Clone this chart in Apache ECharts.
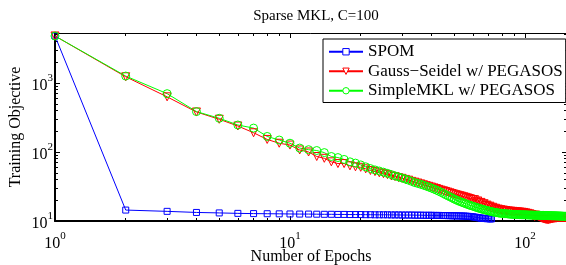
<!DOCTYPE html>
<html><head><meta charset="utf-8">
<script src="https://cdn.jsdelivr.net/npm/echarts@6/dist/echarts.min.js"></script>
<style>html,body{margin:0;padding:0;background:#fff}#c{width:566px;height:265px}</style>
</head><body><div id="c"></div>
<script>
// ---- data ----
const titleText = 'Sparse MKL, C=100';
const xName = 'Number of Epochs';
const yName = 'Training Objective';
const seriesNames = ['SPOM', 'Gauss\u2212Seidel w/ PEGASOS', 'SimpleMKL w/ PEGASOS'];
const xMajorTicks = [1, 10, 100];
const yMajorTicks = [10, 100, 1000];
const xMinorTicks = [2,3,4,5,6,7,8,9,20,30,40,50,60,70,80,90];
const yMinorTicks = [20,30,40,50,60,70,80,90,200,300,400,500,600,700,800,900,2000,3000,4000,5000];

const spom = [
  4800, 14.4, 13.8, 13.3, 13.1, 12.9, 12.8, 12.75, 12.7, 12.65,
  12.6, 12.6, 12.55, 12.5, 12.5, 12.45, 12.45, 12.4, 12.4, 12.4,
  12.35, 12.35, 12.3, 12.3, 12.3, 12.3, 12.25, 12.25, 12.25, 12.2,
  12.2, 12.2, 12.2, 12.15, 12.15, 12.15, 12.1, 12.1, 12.1, 12.1,
  12.05, 12.05, 12.05, 12.0, 12.0, 12.0, 11.95, 11.95, 11.9, 11.9,
  11.9, 11.85, 11.85, 11.8, 11.8, 11.75, 11.7, 11.65, 11.6, 11.5,
  11.4, 11.3, 11.2, 11.1, 11.0, 10.95, 10.9, 10.85, 10.8, 10.8,
  10.75, 10.7
];
const gaussSeidel = [
  4800, 1230, 630, 380, 298, 238, 190, 152, 134, 126,
  107, 100, 86, 81, 72, 68, 68, 63, 61, 60,
  57, 54, 52, 50, 48.5, 47, 45, 44, 42.5, 41.5,
  40, 39, 37.5, 36.5, 35.5, 34.5, 33.5, 32.5, 31.8, 31,
  30.2, 29.5, 28.7, 28.0, 27.4, 26.8, 26.2, 25.6, 25.0, 24.5,
  24.0, 23.6, 23.2, 22.8, 22.4, 22.0, 21.6, 21.2, 20.8, 20.4,
  20.4, 19.3, 19.5, 18.4, 18.6, 17.6, 17.8, 16.8, 17.0, 16.1,
  16.4, 15.5, 15.8, 15.0, 15.3, 14.6, 14.9, 14.3, 14.6, 14.0,
  14.4, 13.8, 14.2, 13.6, 14.0, 13.5, 13.9, 13.4, 13.8, 13.3,
  13.7, 13.2, 13.6, 13.1, 13.5, 13.0, 13.4, 12.9, 13.3, 12.8,
  13.1, 12.6, 12.9, 12.4, 12.7, 12.2, 12.4, 11.9, 12.1, 11.6,
  12.2, 12.0, 11.8, 11.6, 11.5, 11.3, 11.2, 11.0, 10.9, 10.8,
  10.7, 10.6, 10.6, 10.5, 10.5, 10.5, 10.6, 10.6, 10.7, 10.8,
  10.8, 10.9, 10.9, 11.0, 11.0, 11.0, 11.1, 11.1, 11.1, 11.1,
  11.1, 11.1, 11.1, 11.1, 11.1, 11.1, 11.1, 11.1, 11.1, 11.1
];
const simpleMKL = [
  4800, 1260, 700, 385, 308, 246, 222, 168, 149, 134,
  114, 108, 105, 98, 86, 83, 78, 72, 69, 65,
  61, 57.5, 55, 53, 51, 49, 47, 45, 43.5, 42,
  40.5, 39, 37.5, 36, 35, 34, 33, 32, 31, 30,
  29, 28, 27, 26, 25, 24, 23.2, 22.4, 21.6, 20.8,
  20.2, 19.6, 19.1, 18.6, 18.2, 17.8, 17.4, 17.0, 16.7, 16.4,
  16.1, 15.8, 15.5, 15.3, 15.0, 14.8, 14.6, 14.4, 14.2, 14.0,
  13.85, 13.7, 13.55, 13.4, 13.3, 13.2, 13.1, 13.0, 12.95, 12.9,
  12.85, 12.8, 12.75, 12.7, 12.65, 12.6, 12.55, 12.5, 12.5, 12.45,
  12.45, 12.4, 12.4, 12.4, 12.35, 12.35, 12.3, 12.3, 12.3, 12.3,
  12.25, 12.25, 12.25, 12.2, 12.2, 12.2, 12.2, 12.15, 12.15, 12.15,
  12.15, 12.1, 12.1, 12.1, 12.1, 12.1, 12.05, 12.05, 12.05, 12.05,
  12.0, 12.0, 12.0, 12.0, 12.0, 11.95, 11.95, 11.95, 11.95, 11.9,
  11.9, 11.9, 11.9, 11.9, 11.85, 11.85, 11.85, 11.85, 11.8, 11.8,
  11.8, 11.8, 11.75, 11.75, 11.75, 11.7, 11.7, 11.7, 11.7, 11.7
];

// ---- chart ----
const serif = 'Liberation Serif, Times New Roman, serif';
const X_MIN = 1, X_MAX = 151, Y_MIN = 10, Y_MAX = 5300;
const pairs = arr => arr.map((v, i) => [i + 1, v]);
const powLabel = v => '{b|10}{s|' + Math.round(Math.log10(v)) + '}';
const labelRich = {
  b: { fontSize: 16, fontFamily: serif, color: '#000', padding: [5, 0, 0, 0], verticalAlign: 'bottom' },
  s: { fontSize: 11, fontFamily: serif, color: '#000', verticalAlign: 'top' }
};

function xAx(opts) {
  return Object.assign({
    type: 'log', logBase: 10, min: X_MIN, max: X_MAX,
    splitLine: { show: false }, axisLabel: { show: false },
    axisLine: { show: false }, axisTick: { show: false }
  }, opts);
}
function yAx(opts) {
  return Object.assign({
    type: 'log', logBase: 10, min: Y_MIN, max: Y_MAX,
    splitLine: { show: false }, axisLabel: { show: false },
    axisLine: { show: false }, axisTick: { show: false }
  }, opts);
}

const chart = echarts.init(document.getElementById('c'), null, { renderer: 'canvas' });
const colors = ['#0000ff', '#ff0000', '#00ff00'];
const symbols = ['rect', 'triangle', 'circle'];
const rotates = [0, 180, 0];
const sizes = [6, 8, 8];
const datas = [spom, gaussSeidel, simpleMKL];

chart.setOption({
  animation: false,
  backgroundColor: '#fff',
  title: {
    text: titleText, left: 311, top: 4, textAlign: 'center',
    textStyle: { fontFamily: serif, fontSize: 15, fontWeight: 'normal', color: '#000' }
  },
  grid: { left: 55, right: -1, top: 33, bottom: 44, containLabel: false, outerBoundsMode: 'none' },
  legend: {
    orient: 'vertical', left: 323, top: 39,
    padding: [4, 3, 3, 5], itemGap: 2,
    itemWidth: 34, itemHeight: 8,
    borderColor: '#000', borderWidth: 1, backgroundColor: '#fff',
    textStyle: { fontFamily: serif, fontSize: 17, color: '#000', lineHeight: 17.5 },
    data: seriesNames.map((n, i) => ({ name: n, itemStyle: { color: '#fff', borderColor: colors[i], borderWidth: 1 } }))
  },
  xAxis: [
    xAx({ position: 'bottom', name: xName, nameLocation: 'middle', nameGap: 28, nameMoveOverlap: false,
      nameTextStyle: { fontFamily: serif, fontSize: 16, color: '#000' },
      axisLine: { show: true, onZero: false, lineStyle: { color: '#000', width: 2 } },
      axisTick: { show: true, inside: true, length: 5, customValues: xMajorTicks, lineStyle: { color: '#000' } },
      axisLabel: { show: true, margin: 10, customValues: xMajorTicks, formatter: powLabel, rich: labelRich } }),
    xAx({ position: 'top',
      axisLine: { show: true, onZero: false, lineStyle: { color: '#000', width: 1 } },
      axisTick: { show: true, inside: true, length: 5, customValues: xMajorTicks, lineStyle: { color: '#000' } } }),
    xAx({ position: 'bottom',
      axisTick: { show: true, inside: true, length: 3, customValues: xMinorTicks, lineStyle: { color: '#000' } } }),
    xAx({ position: 'top',
      axisTick: { show: true, inside: true, length: 3, customValues: xMinorTicks, lineStyle: { color: '#000' } } })
  ],
  yAxis: [
    yAx({ position: 'left', name: yName, nameLocation: 'middle', nameGap: 31, nameRotate: 90, nameMoveOverlap: false,
      nameTextStyle: { fontFamily: serif, fontSize: 16, color: '#000' },
      axisLine: { show: true, onZero: false, lineStyle: { color: '#000', width: 2 } },
      axisTick: { show: true, inside: true, length: 5, customValues: yMajorTicks, lineStyle: { color: '#000' } },
      axisLabel: { show: true, margin: 2, customValues: yMajorTicks, formatter: powLabel, rich: labelRich } }),
    yAx({ position: 'right',
      axisTick: { show: true, inside: true, length: 5, customValues: yMajorTicks, lineStyle: { color: '#000' } } }),
    yAx({ position: 'left',
      axisTick: { show: true, inside: true, length: 3, customValues: yMinorTicks, lineStyle: { color: '#000' } } }),
    yAx({ position: 'right',
      axisTick: { show: true, inside: true, length: 3, customValues: yMinorTicks, lineStyle: { color: '#000' } } })
  ],
  series: datas.map((d, i) => ({
    name: seriesNames[i], type: 'line', xAxisIndex: 0, yAxisIndex: 0,
    data: pairs(d), symbol: symbols[i], symbolSize: sizes[i], symbolRotate: rotates[i],
    showAllSymbol: true, clip: true,
    lineStyle: { color: colors[i], width: 1 },
    itemStyle: { color: 'rgba(255,255,255,0)', borderColor: colors[i], borderWidth: 1 },
    emphasis: { disabled: true }
  }))
});
</script></body></html>
